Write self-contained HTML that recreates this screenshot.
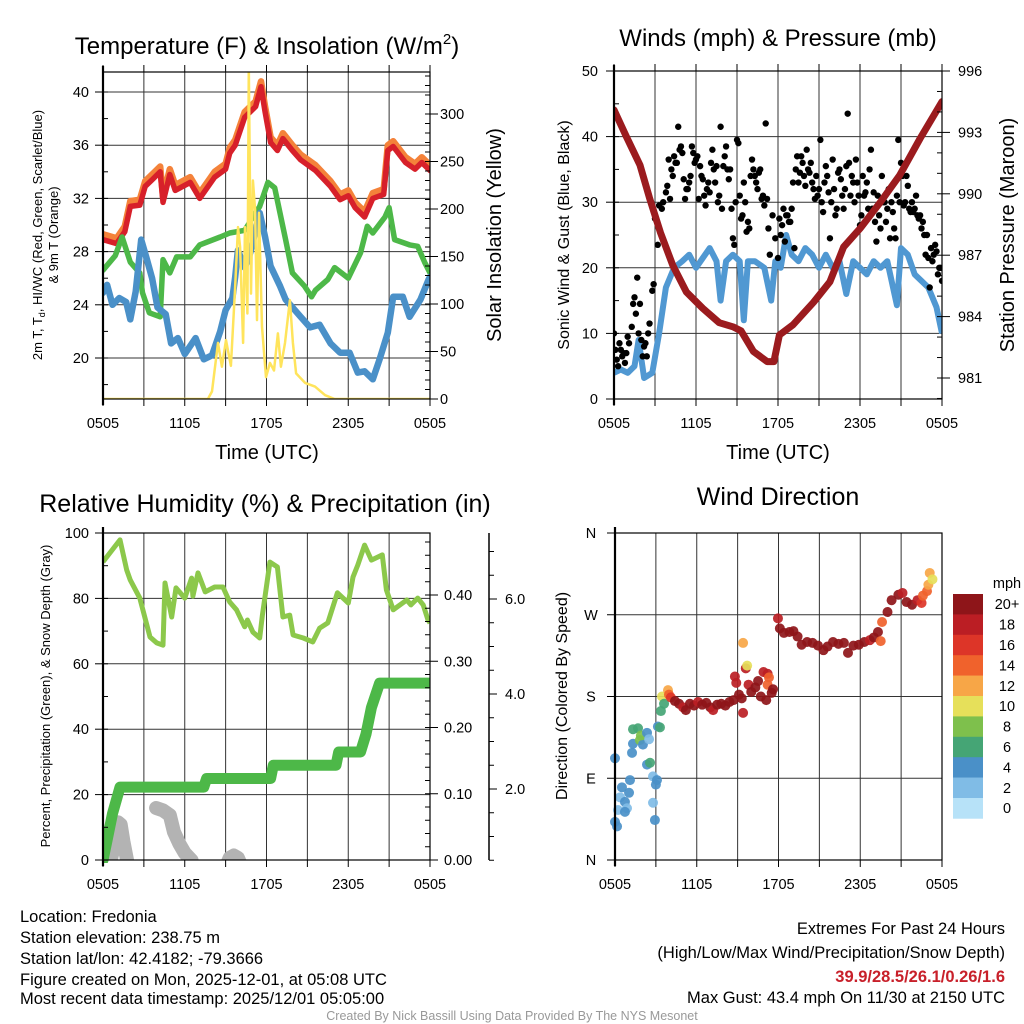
<!DOCTYPE html>
<html><head><meta charset="utf-8"><style>
html,body{margin:0;padding:0;background:#fff;}
svg{display:block;font-family:"Liberation Sans",Arial,sans-serif;}
</style></head><body>
<svg id="fig" width="1024" height="1024" viewBox="0 0 1024 1024" xmlns="http://www.w3.org/2000/svg">
<defs>
<clipPath id="c1"><rect x="103" y="72" width="327" height="327"/></clipPath>
<clipPath id="c2"><rect x="614" y="71" width="328" height="328"/></clipPath>
<clipPath id="c3"><rect x="103" y="533" width="327" height="330"/></clipPath>
<clipPath id="c3s"><rect x="103" y="533" width="327" height="327"/></clipPath>
<clipPath id="c4"><rect x="608" y="533" width="340" height="327"/></clipPath>
</defs>
<g id="grid"></g>
<g id="marks"></g>
<g id="axes"></g>

<text x="267" y="54" font-size="24" text-anchor="middle">Temperature (F) &amp; Insolation (W/m<tspan font-size="15" dy="-10">2</tspan><tspan dy="10">)</tspan></text>
<text x="778" y="46" font-size="24" text-anchor="middle">Winds (mph) &amp; Pressure (mb)</text>
<text x="265" y="512" font-size="25" text-anchor="middle">Relative Humidity (%) &amp; Precipitation (in)</text>
<text x="778" y="505" font-size="25" text-anchor="middle">Wind Direction</text>

<text x="267" y="459" font-size="20" text-anchor="middle">Time (UTC)</text>
<text x="778" y="459" font-size="20" text-anchor="middle">Time (UTC)</text>

<text transform="translate(42,235) rotate(-90)" font-size="13" text-anchor="middle">2m T, T<tspan font-size="9" dy="3">d</tspan><tspan dy="-3">, HI/WC (Red, Green, Scarlet/Blue)</tspan></text>
<text transform="translate(58,235) rotate(-90)" font-size="13" text-anchor="middle">&amp; 9m T (Orange)</text>
<text transform="translate(501,235) rotate(-90)" font-size="20" text-anchor="middle">Solar Insolation (Yellow)</text>
<text transform="translate(569,235) rotate(-90)" font-size="16" text-anchor="middle">Sonic Wind &amp; Gust (Blue, Black)</text>
<text transform="translate(1014,235) rotate(-90)" font-size="20" text-anchor="middle">Station Pressure (Maroon)</text>
<text transform="translate(50,696) rotate(-90)" font-size="13" text-anchor="middle">Percent, Precipitation (Green), &amp; Snow Depth (Gray)</text>
<text transform="translate(567,696) rotate(-90)" font-size="16" text-anchor="middle">Direction (Colored By Speed)</text>

<g font-size="16.5">
<text x="20" y="922">Location: Fredonia</text>
<text x="20" y="943">Station elevation: 238.75 m</text>
<text x="20" y="964">Station lat/lon: 42.4182; -79.3666</text>
<text x="20" y="985">Figure created on Mon, 2025-12-01, at 05:08 UTC</text>
<text x="20" y="1004">Most recent data timestamp: 2025/12/01 05:05:00</text>
</g>
<g font-size="16.5" text-anchor="end">
<text x="1005" y="934">Extremes For Past 24 Hours</text>
<text x="1005" y="958">(High/Low/Max Wind/Precipitation/Snow Depth)</text>
<text x="1005" y="982" fill="#c8202a" font-weight="bold">39.9/28.5/26.1/0.26/1.6</text>
<text x="1005" y="1003">Max Gust: 43.4 mph On 11/30 at 2150 UTC</text>
</g>
<text x="512" y="1020" font-size="12.5" fill="#999" text-anchor="middle">Created By Nick Bassill Using Data Provided By The NYS Mesonet</text>
</svg>
<script>
// ---- Panel 1: temperature ----
const tempTimes=[0,1,1.6,2,2.7,3.1,3.6,4.2,4.4,4.9,5.3,6.4,7.1,8.2,9,9.3,9.7,10.4,11.2,11.6,11.9,12.3,12.8,13.2,13.9,14.5,15.6,16.7,17.4,18,18.5,19.2,19.8,20.6,20.9,21.3,22.2,22.9,23.4,24];
const temp2m=[28.9,28.6,29.5,31.4,31.5,32.9,33.4,34,31.7,33.8,32.6,33.2,32.0,33.6,34.2,35.4,36.0,38.1,38.9,40.4,38.5,36.2,35.6,36.5,35.6,34.9,34.1,32.9,31.9,32.2,31.3,30.6,32.0,32.3,35.6,35.9,34.7,34.2,34.7,34.1];
const temp9m=[29.3,29.0,29.9,31.8,31.9,33.3,33.8,34.4,32.1,34.2,33.0,33.6,32.4,34.0,34.6,35.8,36.4,38.5,39.3,40.8,38.9,36.6,36.0,36.9,36.0,35.3,34.5,33.3,32.3,32.6,31.7,31.0,32.4,32.7,36.0,36.3,35.1,34.6,35.1,34.5];
const dewTimes=[0,0.9,1.4,2,2.7,2.9,3.4,4.2,4.4,4.9,5.4,6.4,7.1,8.6,9.3,10.4,11.5,12.1,12.6,13.4,13.9,14.8,15.3,15.6,16.5,17,18,18.9,19.4,19.8,20.7,21,21.4,22.5,23.1,23.6,24];
const dewpoint=[26.6,27.7,29.1,27.2,26.4,24.9,23.4,23.1,27.4,26.4,27.6,27.6,28.5,29.1,29.4,29.6,31.4,33.2,32.8,28.9,26.4,25.4,24.6,25.1,25.9,26.8,26.0,27.9,29.9,29.4,30.6,31.3,28.9,28.5,28.4,27.2,26.4];
const wcTimes=[0,0.3,0.7,1.2,1.7,2,2.4,2.8,3.2,3.6,4,4.6,5,5.5,6,6.8,7.4,8,8.6,9,9.5,9.7,9.9,10.4,10.8,11.5,11.9,12.3,13,13.4,14.5,15.2,15.9,16.7,17.4,18.1,18.7,19.2,19.8,20.3,20.9,21.3,22,22.5,23.3,23.9,24];
const windChill=[24.9,25.5,24,24.5,24.2,22.9,25,28.9,27.5,26,23.8,23.3,21.1,21.5,20.3,21.5,19.9,20.2,22,23.6,24.5,26.1,28.1,26.8,27.9,30.9,29.1,26.9,25.4,24.4,23.1,22.3,22.5,21.1,20.4,20.4,18.9,19.0,18.4,19.9,21.9,24.6,24.6,23.1,24.4,25.9,26.1];
const solarTimes=[0,7.7,8.0,8.44,8.73,9.03,9.39,9.69,9.91,10.06,10.28,10.42,10.6,10.7,10.86,11.0,11.16,11.3,11.45,11.67,11.96,12.26,12.55,12.84,13.06,13.36,13.72,13.94,14.17,14.83,15.56,16.3,17.0,24];
const solar=[0,0,8,59,34,62,35,115,181,160,59,181,90,350,111,230,199,83,196,76,23,38,30,69,34,59,104,59,27,17,13,4,0,0];
const tempTicks=[20,24,28,32,36,40];
const solarTicks=[0,50,100,150,200,250,300];
// ---- Panel 2: wind & pressure ----
const presTimes=[0,0.9,1.9,2.6,3.4,4.3,5.3,6.5,7.7,8.7,9.3,10.2,11.2,11.7,12.1,13.1,14.6,15.8,16.8,18,19.5,20.9,22.4,24];
const pressure=[994.1,992.8,991.4,989.8,988.1,986.5,985.2,984.4,983.7,983.5,983.3,982.3,981.8,981.8,983.1,983.6,984.7,985.7,987.4,988.3,989.6,990.9,992.7,994.5];
const windTimes=[0,0.5,1,1.5,1.8,2.2,2.8,3.3,3.8,4.4,5,5.5,6,6.5,7,7.5,7.8,8.2,8.7,9.2,9.5,9.8,10.3,11,11.5,11.8,12.2,12.6,13,13.5,14,14.5,15,15.5,16,16.5,17,17.5,18,18.5,19,19.5,20,20.7,21,21.5,22,22.5,23,23.6,24];
const windSpeed=[4,4.5,4,5,9,3.2,4,10,17,20,21,22,20,21.5,23,21,15,21,22,21,12,21,21,20,15,21,20,25,22,21,23,22,20,22,20,21,16,21,20,19,21,20,21,14.3,23,22,19,18,17,14,10];
const gustTimes=[0,0.1,0.2,0.3,0.4,0.5,0.6,0.7,0.8,0.9,
1.0,1.1,1.3,1.4,1.5,1.6,1.7,1.8,1.9,2.0,
2.1,2.2,2.3,2.4,2.5,2.6,2.8,2.9,3.0,3.2,
3.3,3.5,3.6,3.8,3.9,4.0,4.1,4.3,4.5,4.6,
4.7,4.9,5.0,5.1,5.2,5.3,5.5,5.7,5.8,6.0,
6.2,6.3,6.5,6.7,6.8,7.0,7.2,7.3,7.5,7.6,
7.8,7.9,8.0,8.2,8.4,8.5,8.7,8.8,8.9,9.0,
9.1,9.3,9.5,9.7,9.9,10.1,10.3,10.4,10.6,10.8,
11.0,11.1,11.2,11.3,11.4,11.6,11.8,12.0,12.1,12.3,
12.4,12.6,12.8,13.0,13.2,13.4,13.5,13.6,13.8,14.0,
14.1,14.3,14.5,14.7,14.9,15.1,15.3,15.5,15.7,15.8,
16.0,16.2,16.4,16.6,16.8,17.0,17.1,17.3,17.5,17.7,
17.9,18.0,18.2,18.4,18.6,18.8,19.0,19.2,19.4,19.6,
19.8,20.0,20.2,20.4,20.6,20.8,21.0,21.2,21.4,21.5,
21.7,21.9,22.1,22.3,22.5,22.7,22.8,23.0,23.1,23.3,
23.5,23.6,23.8,24.0,
4.2,4.4,4.8,5.4,5.6,5.9,6.1,6.4,6.6,6.9,
7.1,7.4,7.7,8.1,8.3,8.6,9.2,9.4,9.6,9.8,
10.0,10.2,10.5,10.7,10.9,12.2,12.5,12.7,12.9,13.1,
13.3,13.7,13.9,14.2,14.4,14.6,14.8,15.0,15.2,15.4,
15.6,15.9,16.1,16.3,16.5,16.7,16.9,17.2,17.4,17.6,
17.8,18.1,18.3,18.5,18.7,18.9,19.1,19.3,19.5,19.7,
19.9,20.1,20.3,20.5,20.7,20.9,21.1,21.3,21.6,21.8,
22.0,22.2,22.4,22.6,22.9,23.2,23.4,23.7,23.9];
const gustSpeed=[10,7.5,6,5,8.5,7.5,6.5,7,5.5,7,
9.5,8.5,11,14.5,15.5,13,18.5,10,14.5,9,
6.5,8,8.5,6.5,10,11.5,16.5,17.5,27.5,23.5,
29.5,29,30,31.5,32.5,36.5,30.5,34,36,36,
41.5,38.5,37.5,33.5,30.5,32,33,38.5,37.5,36.5,
30.5,35.5,33.5,29.5,32,31.5,38,35,35.5,30,
41.5,29,35.5,38.5,33.5,35,24.5,23.5,30,39.5,
39,27.5,33,25.5,26,36.5,34,33,34.5,30.5,
29.5,42,30.5,26,22,28,24.5,21.5,27.5,26.5,
29,28,27,29,23,37,33,34.5,36,32.5,
38,34.5,33,30.5,31,39.5,28.5,35.5,31.5,24.5,
36.5,28,34.5,33.5,29,35.5,43.5,31,33,36.5,
31,26.5,34,31.5,29,38,31.5,24,28,34,
30,29,24.5,28.5,24.5,39.5,36,29.5,34,32.5,
28.5,28.5,31,27.5,26,25,22,21.5,17,21,
23.5,22.5,20,18,
35,37,38,32,34,36,37,34,31,33,
36,33,31,37,35,29,31,28,30,27,
34,35,32,35,31,25,24,28,27,33,
35,37,34,35,36,32,34,32,30,33,
34,30,32,29,35,31,32,36,34,30,
33,28,31,33,35,29,27,31,26,30,
27,32,30,26,31,30,34,30,29,30,
29,28,28,27,25,23,22,19,20];
const windTicks=[0,10,20,30,40,50];
const presTicks=[981,984,987,990,993,996];
// ---- Panel 3: RH / precip / snow ----
const rhTimes=[0,1.25,1.74,2.0,2.7,3.45,3.94,4.4,4.55,5.04,5.36,6.0,6.5,6.6,6.97,7.5,8.2,8.8,9.3,9.8,10.4,10.6,11.0,11.5,11.7,12.25,12.8,13.2,13.7,13.95,14.7,15.4,15.9,16.5,17.2,18.0,18.35,18.7,19.2,19.7,20.5,20.8,21.3,22.3,22.6,23.1,23.5,23.85,24];
const rh=[91.2,97.9,88.7,85.6,80.1,68.2,66.4,65.7,84.7,74.3,83.2,80.1,86.2,80.7,87.8,82,83.5,83.5,78.9,76.5,71.3,73.4,69.7,67.9,74.9,91.1,89.6,74.3,74.9,68.8,67.9,66.7,70.9,72.5,81.7,78.6,86.5,90.2,96.3,91.7,93.3,82.6,76.5,79.5,78,80.1,78,73.4,72.5];
const precipTimes=[0,0.3,0.7,1.25,7.4,7.6,12.3,12.5,17.1,17.3,18.9,19.3,19.7,20.3,24];
const precip=[0,0.03,0.07,0.11,0.11,0.123,0.123,0.143,0.143,0.163,0.163,0.19,0.23,0.267,0.267];
const snowTimes=[0.3,0.6,0.9,1.1,1.3,1.5,1.8,3.5,3.9,4.4,4.9,5.2,5.6,6.0,6.5,7,9.0,9.3,9.6,9.9,10.2];
const snowDepth=[0.45,0.55,0.9,1.3,1.25,0.9,0.45,null,1.6,1.55,1.45,1.1,0.85,0.65,0.5,null,0.35,0.55,0.6,0.55,0.35];
const rhTicks=[0,20,40,60,80,100];
const precipTicks=["0.00","0.10","0.20","0.30","0.40"];
const snowTicks=["2.0","4.0","6.0"];
// ---- Panel 4: wind direction ----
const dirTimes=[0,0.51,0.37,0.22,0,0.15,0.73,0.88,0.73,1.1,1.03,1.25,1.32,1.32,1.69,1.83,2.05,1.9,2.35,2.5,2.35,2.57,2.79,3.08,3.0,2.79,2.93,3.15,3.3,3.37,3.45,3.6,3.89,3.96,4.1,
4.4,4.7,5.0,5.2,5.5,5.8,6.1,6.4,6.7,7.0,7.2,7.5,7.8,8.1,8.4,8.7,
8.8,8.9,9.1,9.3,9.4,9.4,9.6,9.7,9.8,10.0,10.3,10.5,10.7,10.9,11.1,11.2,11.3,11.2,11.5,11.6,
11.96,12.1,12.4,12.8,13.1,13.4,13.7,14.1,14.5,14.9,15.3,15.6,16.0,16.4,16.8,17.1,17.5,17.9,18.3,18.7,19.0,19.3,19.5,19.6,20.0,20.3,20.8,21.1,21.4,21.8,22.2,22.5,22.6,22.9,23.0,23.1,23.3];
const dirDeg=[112,80,69,55,42,37,64,57,53,88,74,118,128,144,145,132,127,137,140,133,105,107,92,88,83,63,44,147,146,164,180,172,187,182,179,
175,172,168,165,172,170,174,171,173,168,165,171,172,170,174,176,
202,195,182,178,162,239,211,214,193,185,190,197,180,207,176,205,201,193,184,188,
266,255,250,251,252,246,237,240,239,236,231,235,240,238,239,228,236,237,240,242,245,251,241,262,273,286,292,294,284,281,286,283,291,296,303,316,309];
const dirSpeed=[4,4,2,2,4,4,4,2,4,4,4,4,4,6,6,8,4,8,4,2,4,6,2,4,4,2,4,4,6,6,10,6,12,14,16,
20,20,18,20,20,20,18,20,20,20,18,20,20,20,20,20,
18,18,20,20,18,12,18,10,18,20,20,20,20,18,20,18,14,14,20,20,
18,20,20,20,20,20,20,20,20,20,20,20,20,20,20,20,20,20,20,18,20,20,14,14,20,20,20,18,20,20,18,16,14,14,12,12,10];
const dirTicks=["N","E","S","W","N"];
const speedLabels=["0","2","4","6","8","10","12","14","16","18","20+"];
const speedColors=["#b7e2f8","#80bce6","#4a90c8","#45a575","#7ec04c","#e6e05a","#f7a647","#f0622c","#dd3528","#bb1e24","#8e1519"];
const hourLabels=["0505","1105","1705","2305","0505"];

const NS="http://www.w3.org/2000/svg";
const G=document.getElementById('grid'),M=document.getElementById('marks'),A=document.getElementById('axes');
function el(tag,attrs,parent){const e=document.createElementNS(NS,tag);for(const k in attrs)e.setAttribute(k,attrs[k]);parent.appendChild(e);return e;}
function lin(d0,d1,r0,r1){return v=>r0+(v-d0)*(r1-r0)/(d1-d0);}
function line(x1,y1,x2,y2,parent,w,c){return el('line',{x1:x1,y1:y1,x2:x2,y2:y2,stroke:c||'#000','stroke-width':w||1},parent);}
function txt(x,y,s,parent,opt){const t=el('text',Object.assign({x:x,y:y,'font-size':14.5},opt||{}),parent);t.textContent=s;return t;}
function pathFrom(xs,ys,fx,fy){let d='',pen=false;for(let i=0;i<xs.length;i++){if(ys[i]===null){pen=false;continue;}d+=(pen?'L':'M')+fx(xs[i]).toFixed(1)+' '+fy(ys[i]).toFixed(1);pen=true;}return d;}

const panels=[{x0:103,x1:430,y0:72,y1:399},{x0:614,x1:942,y0:71,y1:399},{x0:103,x1:430,y0:533,y1:860},{x0:615,x1:942,y0:533,y1:860}];
panels.forEach((p,pi)=>{
  const X=lin(0,24,p.x0,p.x1);
  for(let h=0;h<=24;h+=3){
    const x=X(h);
    if(h>0&&h<24){const g=line(x,p.y0,x,p.y1,G,1,'#333');}
    line(x,p.y1,x,p.y1+7,A,1);
    if(pi<2) line(x,p.y0,x,p.y0-7,A,1);
  }
  for(let i=0;i<5;i++){const t=txt(X(i*6),p.y1+29,hourLabels[i],A,{'text-anchor':'middle'});}
  const fr=el('rect',{x:p.x0,y:p.y0,width:p.x1-p.x0,height:p.y1-p.y0,fill:'none',stroke:'#000','stroke-width':1.2},A);
  
  line(p.x0,p.y0-6,p.x0,p.y1+6,A,2.2);
});
function hAxis(p,Y,ticks,labels,side,minorStep,min,max,gridOn,lx){
  ticks.forEach((v,i)=>{const y=Y(v);
    if(gridOn){const g=line(p.x0,y,p.x1,y,G,1,'#333');}
    if(side==='L'){line(p.x0-8,y,p.x0,y,A,1);const t=txt(lx,y+5,labels[i],A,{'text-anchor':'end'});}
    else {line(p.x1,y,p.x1+8,y,A,1);const t=txt(lx,y+5,labels[i],A,{});}
  });
  if(minorStep){for(let v=min;v<=max+1e-9;v+=minorStep){const y=Y(v);if(y<p.y0-0.5||y>p.y1+0.5)continue;
    if(side==='L')line(p.x0,y,p.x0+5,y,A,1);else line(p.x1-5,y,p.x1,y,A,1);}}
}
// Panel 1
const P1=panels[0],X1=lin(0,24,P1.x0,P1.x1),Yt=lin(20,40,358,92),Ys=lin(0,300,399,114);
hAxis(P1,Yt,tempTicks,tempTicks.map(String),'L',2,18,42,true,89);
hAxis(P1,Ys,solarTicks,solarTicks.map(String),'R',10,0,340,false,440);
const g1=el('g',{'clip-path':'url(#c1)'},M);
[[tempTimes,temp9m,'#f4823a',6.5,'temp-9m-line'],[tempTimes,temp2m,'#d7202a',5.5,'temp-2m-line'],[dewTimes,dewpoint,'#4db848',5.5,'dewpoint-line'],[wcTimes,windChill,'#4a90c8',6.5,'windchill-line']].forEach(s=>{
  const pth=el('path',{d:pathFrom(s[0],s[1],X1,Yt),fill:'none',stroke:s[2],'stroke-width':s[3],'stroke-linejoin':'round','stroke-linecap':'round'},g1);
  
});
const sp=el('path',{d:pathFrom(solarTimes,solar,X1,Ys),fill:'none',stroke:'#ffe45c','stroke-width':2.5,'stroke-linejoin':'round'},g1);

// Panel 2
const P2=panels[1],X2=lin(0,24,P2.x0,P2.x1),Yw=lin(0,50,399,71),Yp=lin(981,996,378,71);
hAxis(P2,Yw,windTicks,windTicks.map(String),'L',5,0,50,true,598);
hAxis(P2,Yp,presTicks,presTicks.map(String),'R',1,980,996,false,958);
const g2=el('g',{'clip-path':'url(#c2)'},M);
const wp=el('path',{d:pathFrom(windTimes,windSpeed,X2,Yw),fill:'none',stroke:'#5098d2','stroke-width':6,'stroke-linejoin':'round'},g2);

for(let i=0;i<gustTimes.length;i++){const c=el('circle',{cx:X2(gustTimes[i]),cy:Yw(gustSpeed[i]),r:3.2,fill:'#000'},g2);
  }
const pp=el('path',{d:pathFrom(presTimes,pressure,X2,Yp),fill:'none',stroke:'#9b1b1e','stroke-width':7,'stroke-linejoin':'round','stroke-linecap':'round'},g2);

// Panel 3
const P3=panels[2],X3=lin(0,24,P3.x0,P3.x1),Yr=lin(0,100,860,533),Ypr=lin(0,0.4,860,595),Ysn=lin(2,6,789,599);
hAxis(P3,Yr,rhTicks,rhTicks.map(String),'L',10,0,100,true,89);
hAxis(P3,Ypr,precipTicks.map(Number),precipTicks,'R',0.02,0,0.5,false,444);
line(489,533,489,860,A,1.5);
snowTicks.forEach(s=>{const y=Ysn(Number(s));line(489,y,497,y,A,1);const t=txt(505,y+5,s,A,{});});
for(let v=0.5;v<=7.4;v+=0.5){const y=Ysn(v);line(489,y,494,y,A,1);}
const g3=el('g',{'clip-path':'url(#c3s)'},M);
const snp=el('path',{d:pathFrom(snowTimes,snowDepth,X3,Ysn),fill:'none',stroke:'#b3b3b3','stroke-width':14,'stroke-linejoin':'round','stroke-linecap':'round'},g3);

const g3b=el('g',{'clip-path':'url(#c3)'},M);
const rp=el('path',{d:pathFrom(rhTimes,rh,X3,Yr),fill:'none',stroke:'#8cc84b','stroke-width':5,'stroke-linejoin':'round'},g3b);

const prp=el('path',{d:pathFrom(precipTimes,precip,X3,Ypr),fill:'none',stroke:'#4db848','stroke-width':11,'stroke-linejoin':'round','stroke-linecap':'round'},g3b);

// Panel 4
const P4=panels[3],X4=lin(0,24,P4.x0,P4.x1),Yd=lin(0,360,860,533);
dirTicks.forEach((s,i)=>{const y=Yd(i*90);
  if(i>0&&i<4){const g=line(P4.x0,y,P4.x1,y,G,1,'#333');}
  line(P4.x0-8,y,P4.x0,y,A,1);const t=txt(591,y+5,s,A,{'text-anchor':'middle'});});
const g4=el('g',{'clip-path':'url(#c4)'},M);
for(let i=0;i<dirTimes.length;i++){const ci=Math.min(10,Math.floor(dirSpeed[i]/2));
  const c=el('circle',{cx:X4(dirTimes[i]),cy:Yd(dirDeg[i]),r:5,fill:speedColors[ci],'fill-opacity':0.92},g4);
  }
const cb=el('g',{},A);
const cbTop=594,cbH=20.4;
txt(1007,588,'mph',cb,{'text-anchor':'middle'});
for(let i=0;i<11;i++){const k=10-i;const y=cbTop+i*cbH;
  const r=el('rect',{x:953,y:y,width:30,height:cbH+0.3,fill:speedColors[k]},cb);
  const t=txt(1007,y+cbH/2+5,speedLabels[k],cb,{'text-anchor':'middle'});}
</script>
</body></html>
